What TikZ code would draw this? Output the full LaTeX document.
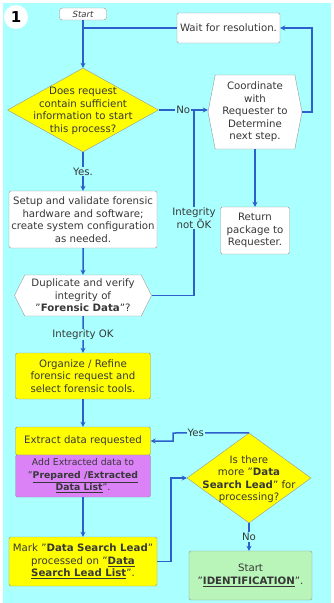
\documentclass[tikz,border=0pt]{standalone}
\usepackage{fontspec}
\setmainfont{DejaVu Sans}
\usetikzlibrary{arrows.meta,positioning,shapes.geometric,shapes.symbols}
\definecolor{bgcyan}{RGB}{170,255,255}
\definecolor{flowblue}{RGB}{45,95,205}
\definecolor{boxyel}{RGB}{255,255,0}
\definecolor{boxpur}{RGB}{218,130,246}
\definecolor{boxgrn}{RGB}{185,245,185}
\definecolor{edgegray}{RGB}{150,150,150}
\definecolor{ink}{RGB}{55,55,55}

\begin{document}
\begin{tikzpicture}[x=1pt, y=-1pt, >={Stealth[length=5pt,width=5pt]},
  font=\fontsize{10.2}{12.5}\selectfont,
  box/.style={draw=edgegray, fill=white, rounded corners=1.5pt, align=center,
    text=ink, inner sep=1pt},
  ybox/.style={box, fill=boxyel},
  pbox/.style={box, fill=boxpur},
  gbox/.style={box, fill=boxgrn},
  hexa/.style={signal, signal to=west and east, draw=edgegray, fill=white,
    align=center, text=ink, inner sep=1pt},
  choice/.style={diamond, draw=edgegray, fill=boxyel, inner sep=0pt},
  flow/.style={draw=flowblue, line width=1.5pt},
  tag/.style={fill=bgcyan, inner sep=1pt, text=ink, align=center}]
\useasboundingbox (0,0) rectangle (334,603);
\fill[bgcyan] (3,3) rectangle (331,603);
\node[circle, fill=white, minimum size=24pt, inner sep=0pt,
  font=\bfseries\fontsize{15}{15}\selectfont] (num) at (16,17) {1};

% top row
\node[box, rounded corners=3pt, minimum width=47pt, minimum height=12pt,
  font=\itshape\fontsize{8.5}{9}\selectfont] (start) at (83,14) {Start};
\node[box, minimum width=103pt, minimum height=30pt] (wait) at (228.5,28)
  {Wait for resolution.};
\node[choice, minimum width=151pt, minimum height=84pt] (q1) at (83,110) {};
\node[text=ink, align=center] (q1txt) at (83,111)
  {Does request\\contain sufficient\\information to start\\this process?};
\node[hexa, minimum width=94pt, minimum height=74pt, signal pointer angle=158]
  (coord) at (255,112) {Coordinate\\with\\Requester to\\Determine\\next step.};
\node[box, minimum width=69pt, minimum height=47pt] (ret) at (255,230.5)
  {Return\\package to\\Requester.};

% left column
\node[box, minimum width=148pt, minimum height=57pt] (setup) at (83,219.5)
  {Setup and validate forensic\\hardware and software;\\create system configuration\\as needed.};
\node[hexa, minimum width=137pt, minimum height=41pt, signal pointer angle=127]
  (dup) at (83,295.5) {Duplicate and verify\\integrity of\\"\textbf{Forensic Data}"?};
\node[ybox, minimum width=135pt, minimum height=46pt] (org) at (83,376)
  {Organize / Refine\\forensic request and\\select forensic tools.};
\node[ybox, minimum width=135pt, minimum height=28pt] (extr) at (83,441)
  {Extract data requested};
\node[pbox, minimum width=135pt, minimum height=42pt,
  font=\fontsize{9.3}{12.5}\selectfont] (addx) at (83,476)
  {Add Extracted data to\\"\underline{\textbf{Prepared /Extracted}}\\\underline{\textbf{Data List}}".};
\node[ybox, minimum width=148pt, minimum height=49pt] (mark) at (83,561.5)
  {Mark "\textbf{Data Search Lead}"\\processed on "\underline{\textbf{Data}}\\\underline{\textbf{Search Lead List}}".};

% lower right
\node[choice, minimum width=124pt, minimum height=90pt] (q2) at (249,478) {};
\node[text=ink, align=center] (q2txt) at (249,479)
  {Is there\\more "\textbf{Data}\\\textbf{Search Lead}" for\\processing?};
\node[gbox, minimum width=123pt, minimum height=49pt] (ident) at (250.5,575.5)
  {Start\\"\underline{\textbf{IDENTIFICATION}}".};

\coordinate (loopr) at (312,28);
\coordinate (notok) at (194,111);
\coordinate (yesbend) at (173,433);
\coordinate (markbend) at (171,0);

\draw[flow, ->] (start) -- (q1);
\draw[flow] (wait.west) -- (wait.west -| start);
\draw[flow, ->] (q1.east) -- node[tag] {No} (q1.east -| coord.west);
\draw[flow, ->] (coord.east) -| (loopr) -- (wait.east);
\draw[flow, ->] (coord.south) -- (ret);
\draw[flow, ->] (q1) -- node[tag] {Yes.} (setup);
\draw[flow, ->] (setup) -- (dup);
\draw[flow] (dup.east) -| node[tag, pos=0.71] {Integrity\\not ÕK} (notok);
\draw[flow, ->] (dup) -- node[tag] {Integrity OK} (org);
\draw[flow, ->] (org) -- (extr);
\draw[flow, ->] (addx) -- (mark);
\draw[flow, ->] (q2.north) -- node[tag, pos=0.7] {Yes} (yesbend) |- (extr.east);
\draw[flow, ->] (mark.east) -- (mark.east -| markbend) |- (q2.west);
\draw[flow, ->] (q2.south) -- node[tag] {No} (q2.south |- ident.north);
\end{tikzpicture}
\end{document}
